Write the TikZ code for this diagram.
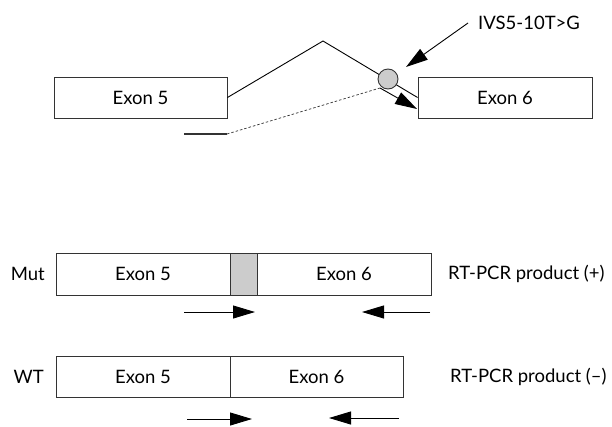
\documentclass[tikz,border=0pt]{standalone}
\usepackage{fontspec}
\setmainfont{Lato}
\usetikzlibrary{arrows.meta}
\definecolor{boxline}{HTML}{333333}
\definecolor{mutgray}{HTML}{CCCCCC}
\tikzset{
  exonbox/.style={draw=boxline, line width=0.9pt, inner sep=0pt, minimum height=41pt, font=\fontsize{18.5}{22}\selectfont},
  lbl/.style={inner sep=0pt, font=\fontsize{18.5}{22}\selectfont},
  bigarrow/.style={line width=0.9pt, -{Triangle[length=22pt,width=13pt]}},
}
\begin{document}
\begin{tikzpicture}[x=1pt,y=-1pt]
\useasboundingbox (0,0) rectangle (612,426);
% top: splicing
\node[exonbox, minimum width=173pt] (e5top) at (140.5,97.5) {Exon 5};
\node[exonbox, minimum width=174pt] (e6top) at (505,97.5) {Exon 6};
\coordinate (apex) at (323,41);
\draw[line width=0.9pt] (e5top.east) -- (apex) -- (e6top.west);
\node[circle, draw=boxline, fill=mutgray, line width=0.9pt, minimum size=20pt, inner sep=0pt] (snp) at (388,79) {};
\coordinate (crypt) at (380,88);
\coordinate (dotstart) at (227,134);
\coordinate (stub) at (184,134);
\draw[line width=1.4pt, draw=boxline] (stub) -- (dotstart);
\draw[line width=0.7pt, dash pattern=on 2.5pt off 2pt, draw=boxline] (dotstart) -- (crypt);
\coordinate (crypttip) at (417,109);
\draw[bigarrow] (crypt) -- (crypttip);
\node[lbl, anchor=west] (ivs) at (478,23) {IVS5-10T>G};
\coordinate (ivstip) at (406,67);
\draw[bigarrow] (ivs.west) ++(-10,0) coordinate (ivstail) (ivstail) -- (ivstip);
% Mut row
\node[exonbox, minimum width=174pt, minimum height=42pt] (mut5) at (143,274) {Exon 5};
\node[exonbox, minimum width=27pt, minimum height=42pt, fill=mutgray] (mutg) at (243.5,274) {};
\node[exonbox, minimum width=174pt, minimum height=42pt] (mut6) at (344,274) {Exon 6};
\node[lbl, anchor=east] (mutlbl) at (45,274) {Mut};
\node[lbl, anchor=west] (mutprod) at (448,274) {RT-PCR product (+)};
\coordinate (mf1) at (184,312); \coordinate (mf2) at (255,312);
\coordinate (mr1) at (430,312); \coordinate (mr2) at (362,312);
\draw[bigarrow] (mf1) -- (mf2);
\draw[bigarrow] (mr1) -- (mr2);
% WT row
\node[exonbox, minimum width=174pt] (wt5) at (143,376.5) {Exon 5};
\node[exonbox, minimum width=173pt] (wt6) at (316.5,376.5) {Exon 6};
\node[lbl, anchor=east] (wtlbl) at (44,377) {WT};
\node[lbl, anchor=west] (wtprod) at (450,377) {RT-PCR product (–)};
\coordinate (wf1) at (187,419); \coordinate (wf2) at (252,419);
\coordinate (wr1) at (399,418); \coordinate (wr2) at (329,418);
\draw[bigarrow] (wf1) -- (wf2);
\draw[bigarrow] (wr1) -- (wr2);
\end{tikzpicture}
\end{document}
